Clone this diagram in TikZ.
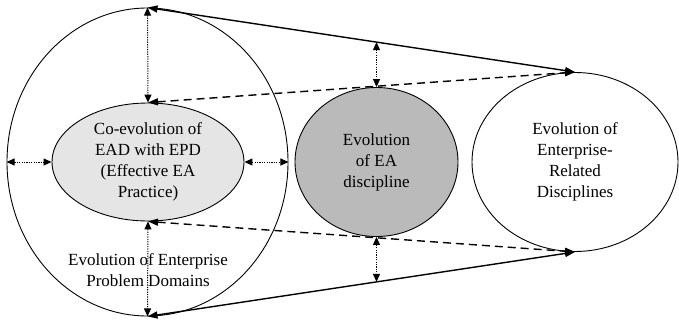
\documentclass[tikz,border=0pt]{standalone}
\usepackage{fontspec}
\setmainfont{Liberation Serif}
\usetikzlibrary{shapes.geometric,arrows.meta}

\begin{document}
\begin{tikzpicture}[x=1pt,y=-1pt,
  blob/.style={ellipse,draw,inner sep=0pt,line width=0.9pt},
  lbl/.style={align=center,font=\fontsize{17}{21}\selectfont},
  tip/.style={Triangle[length=9pt,width=7pt]},
  link/.style={line width=1.4pt,{Triangle[length=10pt,width=7pt]}-{Triangle[length=10pt,width=7pt]}},
  dlink/.style={link,dash pattern=on 8pt off 5pt},
  gap/.style={line width=1pt,dash pattern=on 1.2pt off 1.2pt,{Triangle[length=8pt,width=7pt]}-{Triangle[length=8pt,width=7pt]}}]
\useasboundingbox (0,0) rectangle (679,324);

% problem domains around the practice
\node [blob,minimum width=281pt,minimum height=308pt] (epd) at (147.5,162) {};
\node [blob,fill=black!10,minimum width=192pt,minimum height=118pt,lbl] (coevo) at (148,162)
  {Co-evolution of\\EAD with EPD\\(Effective EA\\Practice)};
\node [lbl] (epdtext) at (148,270) {Evolution of Enterprise\\Problem Domains};

% the discipline and its neighbours
\node [blob,fill=black!27,minimum width=163pt,minimum height=149pt,lbl] (ead) at (376.5,162)
  {Evolution\\of EA\\discipline};
\node [blob,minimum width=206pt,minimum height=179pt,lbl] (erd) at (575,162)
  {Evolution of\\Enterprise-\\Related\\Disciplines};

% links to the related disciplines
\draw [link] (epd.north) -- coordinate[pos=0.536] (topmid) (erd.north);
\draw [link] (epd.south) -- coordinate[pos=0.536] (botmid) (erd.south);
\draw [dlink] (coevo.north) -- (erd.north);
\draw [dlink] (coevo.south) -- (erd.south);

% gaps
\draw [gap] (epd.north) -- (coevo.north);
\draw [gap] (coevo.south) -- (epd.south);
\draw [gap] (epd.west) -- (coevo.west);
\draw [gap] (coevo.east) -- (epd.east);
\draw [gap] (topmid -| ead.north) -- (ead.north);
\draw [gap] (ead.south) -- (botmid -| ead.south);
\end{tikzpicture}
\end{document}
